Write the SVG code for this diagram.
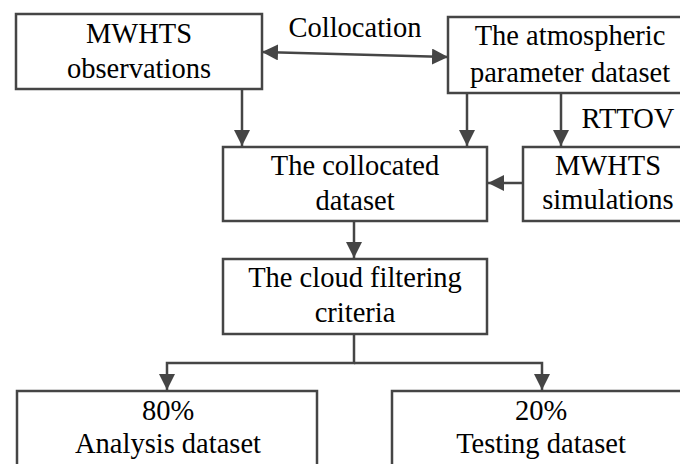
<svg xmlns="http://www.w3.org/2000/svg" width="680" height="464" viewBox="0 0 680 464">
  <style>
    .box { fill: #ffffff; stroke: #454545; stroke-width: 2.5; }
    .lbl { font-size: 28.5px; fill: #000000; text-anchor: middle; }
    .wire { fill: none; stroke: #454545; stroke-width: 2.5; }
  </style>
  <defs>
    <marker id="head" viewBox="0 0 16 16" refX="16" refY="8" markerWidth="16" markerHeight="16" markerUnits="userSpaceOnUse" orient="auto-start-reverse">
      <path d="M0,0 L16,8 L0,16 Z" fill="#454545"/>
    </marker>
  </defs>

  <rect width="680" height="464" fill="#ffffff"/>

  <g font-family="Liberation Serif, Times New Roman, Times, serif">
  <!-- connectors -->
  <g id="connectors">
    <line class="wire" x1="262" y1="52" x2="448" y2="57" marker-start="url(#head)" marker-end="url(#head)"/>
    <text class="lbl" x="355" y="37">Collocation</text>
    <line class="wire" x1="242" y1="89" x2="242" y2="146" marker-end="url(#head)"/>
    <line class="wire" x1="467" y1="93" x2="467" y2="146" marker-end="url(#head)"/>
    <line class="wire" x1="561" y1="93" x2="561" y2="146" marker-end="url(#head)"/>
    <text class="lbl" x="628" y="128">RTTOV</text>
    <line class="wire" x1="523" y1="183" x2="488" y2="183" marker-end="url(#head)"/>
    <line class="wire" x1="354" y1="221" x2="354" y2="258" marker-end="url(#head)"/>
    <polyline class="wire" points="354,334 354,363 167,363 167,390" marker-end="url(#head)"/>
    <polyline class="wire" points="354,363 542,363 542,390" marker-end="url(#head)"/>
  </g>

  <!-- nodes -->
  <g id="obs">
    <rect class="box" x="16" y="14" width="246" height="75"/>
    <text class="lbl" x="139" y="43">MWHTS</text>
    <text class="lbl" x="139" y="78">observations</text>
  </g>
  <g id="atmos">
    <rect class="box" x="448" y="17" width="236" height="76"/>
    <text class="lbl" x="570" y="45">The atmospheric</text>
    <text class="lbl" x="570" y="82">parameter dataset</text>
  </g>
  <g id="collocated">
    <rect class="box" x="223" y="147" width="264" height="74"/>
    <text class="lbl" x="355" y="175">The collocated</text>
    <text class="lbl" x="355" y="210">dataset</text>
  </g>
  <g id="sims">
    <rect class="box" x="523" y="147" width="161" height="74"/>
    <text class="lbl" x="608" y="175">MWHTS</text>
    <text class="lbl" x="608" y="209">simulations</text>
  </g>
  <g id="cloud">
    <rect class="box" x="223" y="259" width="264" height="75"/>
    <text class="lbl" x="355" y="287">The cloud filtering</text>
    <text class="lbl" x="355" y="322">criteria</text>
  </g>
  <g id="analysis">
    <rect class="box" x="17" y="391" width="300" height="80"/>
    <text class="lbl" x="168" y="420">80%</text>
    <text class="lbl" x="168" y="453">Analysis dataset</text>
  </g>
  <g id="testing">
    <rect class="box" x="392" y="391" width="292" height="80"/>
    <text class="lbl" x="541" y="420">20%</text>
    <text class="lbl" x="541" y="453">Testing dataset</text>
  </g>
  </g>
</svg>
